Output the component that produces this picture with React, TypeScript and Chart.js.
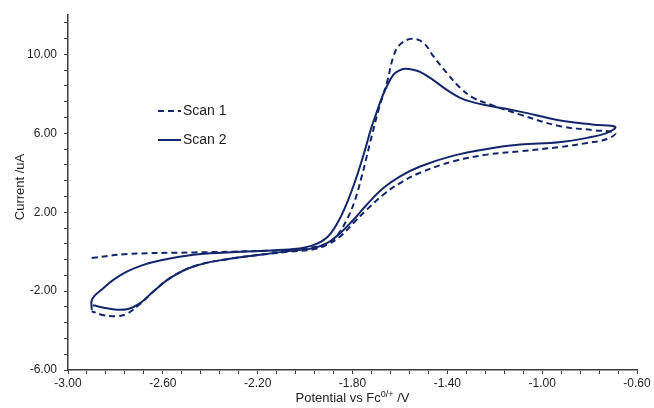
import React, { useEffect, useRef } from "react";
import { Chart, registerables } from "chart.js";

Chart.register(...registerables);

// ---- data ----
const seriesLabels = ["Scan 1", "Scan 2"];

const scan1X = [
  -2.9, -2.75, -2.47, -2.2, -2.05, -1.98, -1.908, -1.866, -1.824, -1.789, -1.761, -1.74, -1.719, -1.69, -1.655,
  -1.627, -1.599, -1.55, -1.501, -1.459, -1.402, -1.346, -1.29, -1.219, -1.093, -0.924, -0.783, -0.692,
  -0.727, -0.811, -0.924, -1.093, -1.233, -1.374, -1.515, -1.599, -1.67, -1.74, -1.796, -1.852, -1.908, -1.965,
  -2.05, -2.19, -2.33, -2.471, -2.57, -2.64, -2.696, -2.752, -2.8, -2.85, -2.9,
];
const scan1Y = [
  -0.32, -0.12, -0.04, 0.03, 0.09, 0.2, 0.38, 0.8, 1.62, 2.63, 3.82, 4.83, 5.85, 7.2, 8.56,
  9.91, 10.51, 10.79, 10.59, 9.91, 9.06, 8.31, 7.8, 7.46, 6.95, 6.36, 6.16, 6.02,
  5.71, 5.51, 5.31, 5.09, 4.92, 4.58, 4.0, 3.48, 2.89, 2.13, 1.45, 0.77, 0.35, 0.12,
  0.02, -0.16, -0.38, -0.75, -1.34, -2.02, -2.65, -3.15, -3.27, -3.22, -3.02,
];

const scan2X = [
  -2.9, -2.898, -2.851, -2.809, -2.752, -2.682, -2.612, -2.471, -2.33, -2.19, -2.049, -1.965, -1.908,
  -1.866, -1.824, -1.782, -1.747, -1.723, -1.7, -1.675, -1.655, -1.627, -1.6, -1.578, -1.55, -1.515, -1.459,
  -1.402, -1.346, -1.29, -1.23, -1.16, -1.093, -0.924, -0.783, -0.692,
  -0.727, -0.811, -0.93, -1.093, -1.233, -1.374, -1.515, -1.599, -1.67, -1.74, -1.796, -1.852, -1.908, -1.965,
  -2.049, -2.19, -2.33, -2.471, -2.57, -2.64, -2.696, -2.752, -2.823, -2.895,
];
const scan2Y = [
  -2.95, -2.4, -1.85, -1.43, -1.01, -0.67, -0.45, -0.16, -0.04, 0.04, 0.13, 0.33, 0.72,
  1.4, 2.45, 3.82, 5.17, 6.19, 7.0, 7.85, 8.39, 8.98, 9.2, 9.27, 9.24, 9.12, 8.7,
  8.2, 7.8, 7.57, 7.41, 7.26, 7.1, 6.65, 6.44, 6.33,
  6.02, 5.77, 5.55, 5.43, 5.21, 4.87, 4.32, 3.82, 3.23, 2.38, 1.62, 0.94, 0.43, 0.18,
  0.06, -0.16, -0.38, -0.75, -1.34, -2.02, -2.61, -2.92, -2.9, -2.72,
];

const xMajorTicks = [-3.0, -2.6, -2.2, -1.8, -1.4, -1.0, -0.6];
const yMajorTicks = [-6, -2, 2, 6, 10];
const xRange = [-3.0, -0.6];
const yRange = [-6, 12];
const xMinorStep = 0.08;
const yMinorStep = 0.8;

const yTitle = "Current /uA";
const xTitleMain = "Potential vs Fc";
const xTitleSup = "0/+";
const xTitleEnd = " /V";

// ---- styling ----
const LINE = "#13266b";
const AXIS = "#3c3c3c";
const TEXT = "#1e1e1e";
const FONT = "'Liberation Sans', Arial, sans-serif";

function buildTicks(min: number, max: number, step: number) {
  const out: { value: number }[] = [];
  const n = Math.floor((max - min) / step + 1e-9);
  for (let i = 0; i <= n; i++) out.push({ value: Math.round((min + i * step) * 1e6) / 1e6 });
  return out;
}
function isMajor(v: number, majors: number[]) {
  return majors.some((m) => Math.abs(m - v) < 1e-6);
}

const toPoints = (xs: number[], ys: number[]) => xs.map((x, i) => ({ x, y: ys[i] }));

export default function App() {
  const ref = useRef<HTMLCanvasElement | null>(null);

  useEffect(() => {
    if (!ref.current) return;

    const overlay = {
      id: "overlay",
      afterDraw(chart: any) {
        const ctx = chart.ctx as CanvasRenderingContext2D;
        const area = chart.chartArea;
        ctx.save();
        ctx.fillStyle = TEXT;
        // y title
        ctx.save();
        ctx.translate(20, 187);
        ctx.rotate(-Math.PI / 2);
        ctx.font = `13px ${FONT}`;
        ctx.textAlign = "center";
        ctx.textBaseline = "middle";
        ctx.fillText(yTitle, 0, 0);
        ctx.restore();
        // x title with superscript
        const mainF = `13px ${FONT}`;
        const supF = `9px ${FONT}`;
        ctx.font = mainF;
        const w1 = ctx.measureText(xTitleMain).width;
        const w3 = ctx.measureText(xTitleEnd).width;
        ctx.font = supF;
        const w2 = ctx.measureText(xTitleSup).width;
        const total = w1 + w2 + w3;
        const cx = (area.left + area.right) / 2;
        let x = cx - total / 2;
        const base = 402;
        ctx.textAlign = "left";
        ctx.textBaseline = "alphabetic";
        ctx.font = mainF;
        ctx.fillText(xTitleMain, x, base);
        x += w1;
        ctx.font = supF;
        ctx.fillText(xTitleSup, x, base - 5);
        x += w2;
        ctx.font = mainF;
        ctx.fillText(xTitleEnd, x, base);
        // legend
        const legendY = [111, 140];
        const dashes = [[6, 4], []];
        seriesLabels.forEach((lab, i) => {
          ctx.save();
          ctx.strokeStyle = LINE;
          ctx.lineWidth = 2;
          ctx.setLineDash(dashes[i]);
          ctx.beginPath();
          ctx.moveTo(158, legendY[i]);
          ctx.lineTo(181, legendY[i]);
          ctx.stroke();
          ctx.restore();
          ctx.font = `14px ${FONT}`;
          ctx.textBaseline = "middle";
          ctx.textAlign = "left";
          ctx.fillText(lab, 183, legendY[i]);
        });
        ctx.restore();
      },
    };

    const chart = new Chart(ref.current, {
      type: "scatter",
      data: {
        datasets: [
          {
            label: seriesLabels[0],
            data: toPoints(scan1X, scan1Y),
            showLine: true,
            borderColor: LINE,
            borderWidth: 2,
            borderDash: [6, 4],
            pointRadius: 0,
            tension: 0.4,
            fill: false,
          },
          {
            label: seriesLabels[1],
            data: toPoints(scan2X, scan2Y),
            showLine: true,
            borderColor: LINE,
            borderWidth: 2,
            pointRadius: 0,
            tension: 0.4,
            fill: false,
          },
        ],
      },
      options: {
        responsive: false,
        animation: false,
        layout: { padding: { left: 0, right: 17, top: 15, bottom: 0 } },
        plugins: { legend: { display: false }, tooltip: { enabled: false }, title: { display: false } },
        scales: {
          x: {
            type: "linear",
            min: xRange[0],
            max: xRange[1],
            afterBuildTicks: (s: any) => {
              s.ticks = buildTicks(xRange[0], xRange[1], xMinorStep);
            },
            afterFit: (s: any) => {
              s.height = 38;
            },
            ticks: {
              autoSkip: false,
              maxRotation: 0,
              minRotation: 0,
              padding: 2,
              color: TEXT,
              font: { family: FONT, size: 12 },
              callback: (v: any) => (isMajor(Number(v), xMajorTicks) ? Number(v).toFixed(2) : ""),
            },
            grid: { drawOnChartArea: false, drawTicks: true, tickLength: 4, color: AXIS, lineWidth: 1 },
            border: { display: true, color: AXIS, width: 1.5 },
          },
          y: {
            type: "linear",
            min: yRange[0],
            max: yRange[1],
            afterBuildTicks: (s: any) => {
              s.ticks = buildTicks(yRange[0], yRange[1], yMinorStep);
            },
            afterFit: (s: any) => {
              s.width = 68;
            },
            ticks: {
              autoSkip: false,
              padding: 7,
              color: TEXT,
              font: { family: FONT, size: 12 },
              callback: (v: any) => (isMajor(Number(v), yMajorTicks) ? Number(v).toFixed(2) : ""),
            },
            grid: { drawOnChartArea: false, drawTicks: true, tickLength: 4, color: AXIS, lineWidth: 1 },
            border: { display: true, color: AXIS, width: 1.5 },
          },
        },
      },
      plugins: [overlay],
    } as any);

    return () => chart.destroy();
  }, []);

  return (
    <div style={{ position: "fixed", left: 0, top: 0, width: 654, height: 408, background: "#fff" }}>
      <canvas ref={ref} width={654} height={408} style={{ display: "block", width: 654, height: 408 }} />
    </div>
  );
}
